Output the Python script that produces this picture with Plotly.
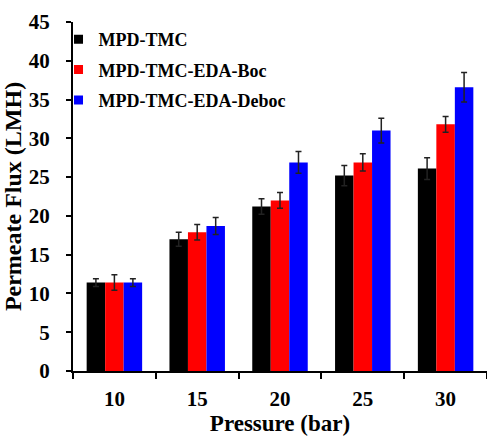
import plotly.graph_objects as go

pressures = ["10", "15", "20", "25", "30"]
series_names = ["MPD-TMC", "MPD-TMC-EDA-Boc", "MPD-TMC-EDA-Deboc"]
flux_tmc = [11.4, 17.0, 21.2, 25.2, 26.1]
flux_boc = [11.4, 17.9, 22.0, 26.9, 31.8]
flux_deboc = [11.4, 18.7, 26.9, 31.0, 36.6]
err_tmc = [0.5, 0.9, 1.0, 1.3, 1.4]
err_boc = [1.0, 1.0, 1.0, 1.1, 1.0]
err_deboc = [0.5, 1.1, 1.4, 1.6, 1.9]
colors = ["#000000", "#ff0000", "#0000ff"]

font_family = "Liberation Serif, Times New Roman, serif"

fig = go.Figure()
for i, (name, vals, errs) in enumerate(zip(series_names,
                                           [flux_tmc, flux_boc, flux_deboc],
                                           [err_tmc, err_boc, err_deboc])):
    fig.add_trace(go.Bar(
        x=pressures, y=vals, name=name,
        marker=dict(color=colors[i], line=dict(width=0)),
        error_y=dict(type="data", array=errs, visible=True,
                     color="#222222", thickness=1.5, width=3),
        legendgroup=name, showlegend=False,
    ))
    # legend proxy with a small square marker
    fig.add_trace(go.Scatter(
        x=[None], y=[None], mode="markers", name=name,
        marker=dict(symbol="square", size=9, color=colors[i]),
        legendgroup=name, showlegend=True,
    ))

fig.update_layout(
    width=487, height=436,
    margin=dict(l=73, r=0, t=22, b=65),
    paper_bgcolor="white", plot_bgcolor="white",
    barmode="group", bargap=0.33, bargroupgap=0,
    font=dict(family=font_family, size=18, color="black"),
    showlegend=True,
    legend=dict(x=-0.035, y=1.003, xanchor="left", yanchor="top",
                bgcolor="rgba(0,0,0,0)",
                font=dict(family=font_family, size=18, color="black", weight="bold"),
                tracegroupgap=4, itemwidth=30),
    xaxis=dict(
        title=dict(text="<b>Pressure (bar)</b>", font=dict(size=23), standoff=8),
        tickfont=dict(size=21, weight="bold"),
        showline=True, linecolor="black", linewidth=2,
        ticks="outside", tickson="boundaries", ticklen=6, tickwidth=2, tickcolor="black",
        ticklabelstandoff=8,
        showgrid=False, range=[-0.5, 4.5], automargin=False,
    ),
    yaxis=dict(
        title=dict(text="<b>Permeate Flux (LMH)</b>", font=dict(size=24), standoff=5),
        tickfont=dict(size=21, weight="bold"),
        range=[0, 45], dtick=5,
        showline=True, linecolor="black", linewidth=2,
        ticks="outside", ticklen=5, tickwidth=2, tickcolor="black",
        ticklabelstandoff=12,
        showgrid=False, zeroline=False, automargin=False,
    ),
)

fig.write_html("out.html", config={"displayModeBar": False},
               post_script="document.body.style.margin='0';document.body.style.padding='0';")
